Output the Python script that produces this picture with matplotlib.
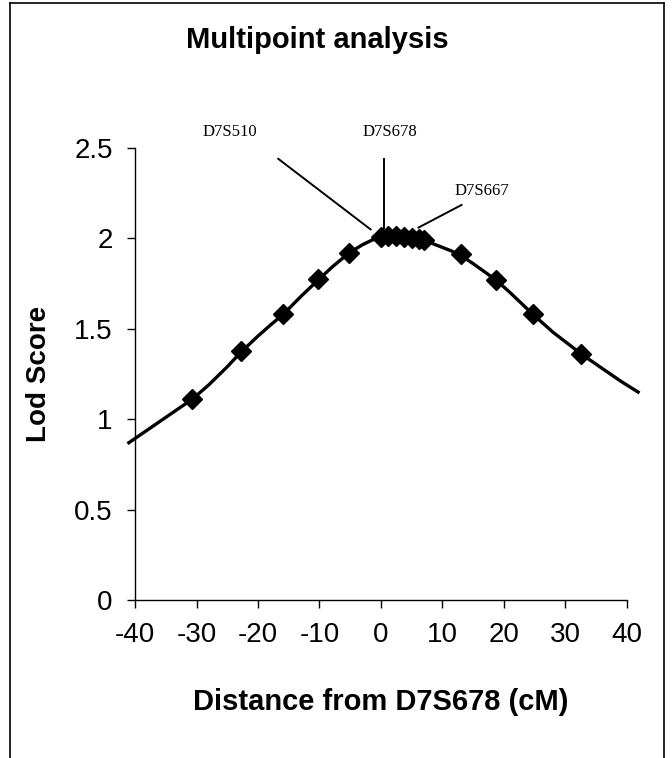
import matplotlib

matplotlib.use("Agg")
import matplotlib.pyplot as plt
from matplotlib.lines import Line2D

# curve (distance in cM, lod score)
curve_x = [-41, -38, -35, -32, -30.7, -28, -25, -22.8, -20, -18, -15.9, -13, -10.2, -8, -5.2,
           -3, -1.5, 0, 1, 2.5, 4, 5.5, 7, 8.5, 10, 11.5, 13, 15, 18.7, 21, 24.7, 28,
           32.6, 36, 39, 41.8]
curve_y = [0.87, 0.94, 1.01, 1.08, 1.11, 1.19, 1.29, 1.37, 1.46, 1.52, 1.58, 1.68, 1.77, 1.84, 1.92,
           1.965, 1.99, 2.005, 2.012, 2.015, 2.01, 2.0, 1.99, 1.97, 1.95, 1.93, 1.905, 1.86, 1.77, 1.70, 1.58, 1.48,
           1.36, 1.28, 1.21, 1.15]

# marker positions
marker_x = [-30.7, -22.8, -15.9, -10.2, -5.2, 0, 1.2, 2.5, 3.8, 5.0, 6.1, 7.0, 13.0, 18.7, 24.7, 32.6]
marker_y = [1.11, 1.375, 1.58, 1.775, 1.92, 2.01, 2.015, 2.015, 2.01, 2.0, 1.995, 1.99, 1.915, 1.77, 1.58, 1.36]

# locus labels: text position and pointer line
loci = ["D7S510", "D7S678", "D7S667"]
loci_text_x = [-24.6, 1.4, 16.4]
loci_text_y = [2.59, 2.59, 2.26]
loci_line_x = [(-16.7, -1.7), (0.5, 0.5), (13.1, 6.1)]
loci_line_y = [(2.44, 2.05), (2.44, 2.06), (2.185, 2.06)]

x_ticks = [-40, -30, -20, -10, 0, 10, 20, 30, 40]
y_ticks = [0, 0.5, 1, 1.5, 2, 2.5]
y_ticklabels = ["0", "0.5", "1", "1.5", "2", "2.5"]

plt.rcParams["font.family"] = ["Liberation Sans", "DejaVu Sans"]
plt.rcParams["axes.unicode_minus"] = False

fig = plt.figure(figsize=(6.72, 7.58), dpi=100)
ax = fig.add_axes([135 / 672, 158 / 758, 492 / 672, 452 / 758])

ax.plot(curve_x, curve_y, color="black", linewidth=2.4, clip_on=False, zorder=2)
ax.plot(marker_x, marker_y, linestyle="none", marker="D", markersize=10,
        color="black", clip_on=False, zorder=3)

for name, tx, ty, lx, ly in zip(loci, loci_text_x, loci_text_y, loci_line_x, loci_line_y):
    ax.plot(lx, ly, color="black", linewidth=1.4, clip_on=False)
    ax.text(tx, ty, name, ha="center", va="center", fontsize=12,
            family=["Liberation Serif", "DejaVu Serif"])

ax.set_xlim(-40, 40)
ax.set_ylim(0, 2.5)
ax.set_xticks(x_ticks)
ax.set_yticks(y_ticks)
ax.set_yticklabels(y_ticklabels)
ax.tick_params(labelsize=20, length=6, width=1, direction="out", pad=10)
for side in ("top", "right"):
    ax.spines[side].set_visible(False)
for side in ("left", "bottom"):
    ax.spines[side].set_linewidth(1)

fig.text(317 / 672, 1 - 40 / 758, "Multipoint analysis", ha="center", va="center",
         fontsize=21, fontweight="bold")
ax.set_xlabel("Distance from D7S678 (cM)", fontsize=21, fontweight="bold", labelpad=29)
ax.set_ylabel("Lod Score", fontsize=20, fontweight="bold", labelpad=16)

# frame around the figure (bottom edge falls outside the picture)
for xs, ys in (([10 / 672, 10 / 672], [0, 1 - 3 / 758]),
               ([10 / 672, 664 / 672], [1 - 3 / 758, 1 - 3 / 758]),
               ([664 / 672, 664 / 672], [1 - 3 / 758, 0])):
    fig.add_artist(Line2D(xs, ys, transform=fig.transFigure, color="black", linewidth=1.2))

fig.savefig("out.png", dpi=100)
